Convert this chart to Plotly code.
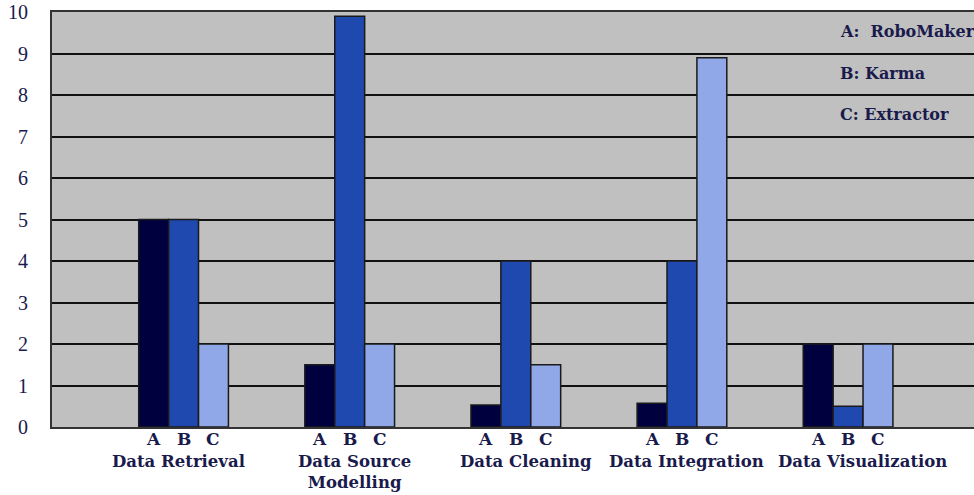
import plotly.graph_objects as go

# Feature scores per task, one series per tool
categories = ["Data Retrieval", "Data Source<br>Modelling", "Data Cleaning",
              "Data Integration", "Data Visualization"]
robomaker = [5, 1.5, 0.53, 0.57, 2]
karma = [5, 9.9, 4, 4, 0.5]
extractor = [2, 2, 1.5, 8.9, 2]

series_letters = ["A", "B", "C"]
legend_lines = ["A:  RoboMaker", "B: Karma", "C: Extractor"]
y_ticks = list(range(0, 11))

colors = ["#00003f", "#2049b0", "#90a8e8"]
text_color = "#1a1a4c"
serif = "DejaVu Serif, serif"
tick_serif = "Liberation Serif, Times New Roman, serif"

# horizontal nudges (px) for the task names under each group
name_shift = [-5, 5, 10, 5, 14]

x_idx = list(range(len(categories)))
bar_w = 0.18
offsets = [-bar_w, 0.0, bar_w]

fig = go.Figure()
for name, vals, col in zip(series_letters, [robomaker, karma, extractor], colors):
    fig.add_trace(go.Bar(
        x=x_idx, y=vals, name=name,
        marker=dict(color=col, line=dict(color="#1a1a1a", width=1.5)),
        hoverinfo="skip",
    ))

annotations = []
# Series letters under each bar and task names below them
for i, cat in enumerate(categories):
    for letter, off in zip(series_letters, offsets):
        annotations.append(dict(
            x=i + off, y=0, xref="x", yref="y", text=f"<b>{letter}</b>",
            showarrow=False, yanchor="middle", yshift=-12,
            font=dict(family=serif, size=17, color=text_color),
        ))
    annotations.append(dict(
        x=i, y=0, xref="x", yref="y", text=f"<b>{cat}</b>",
        showarrow=False, yanchor="top", yshift=-23, xshift=name_shift[i],
        font=dict(family=serif, size=16.5, color=text_color),
    ))

# Key in the top-right corner of the plot area
for line, yv in zip(legend_lines, [9.52, 8.53, 7.52]):
    annotations.append(dict(
        x=0.8525, y=yv, xref="paper", yref="y", text=f"<b>{line}</b>",
        showarrow=False, xanchor="left", yanchor="middle",
        font=dict(family=serif, size=16, color=text_color),
    ))

fig.update_layout(
    width=974, height=495,
    margin=dict(l=52, r=0, t=12, b=68),
    paper_bgcolor="white",
    plot_bgcolor="#c0c0c0",
    barmode="group",
    bargap=0.46,
    bargroupgap=0,
    showlegend=False,
    annotations=annotations,
    xaxis=dict(
        range=[-0.792, 4.758], showticklabels=False, showgrid=False,
        zeroline=False, showline=True, linecolor="#333333", linewidth=2,
        mirror=True, ticks="", fixedrange=True,
    ),
    yaxis=dict(
        range=[0, 10], tickvals=y_ticks, ticktext=[str(v) for v in y_ticks],
        showgrid=True, gridcolor="#111111", gridwidth=1.5,
        zeroline=False, showline=True, linecolor="#333333", linewidth=2,
        ticks="", ticklabelstandoff=18,
        tickfont=dict(family=tick_serif, size=20, color=text_color),
        fixedrange=True,
    ),
)

fig.write_html("out.html")
